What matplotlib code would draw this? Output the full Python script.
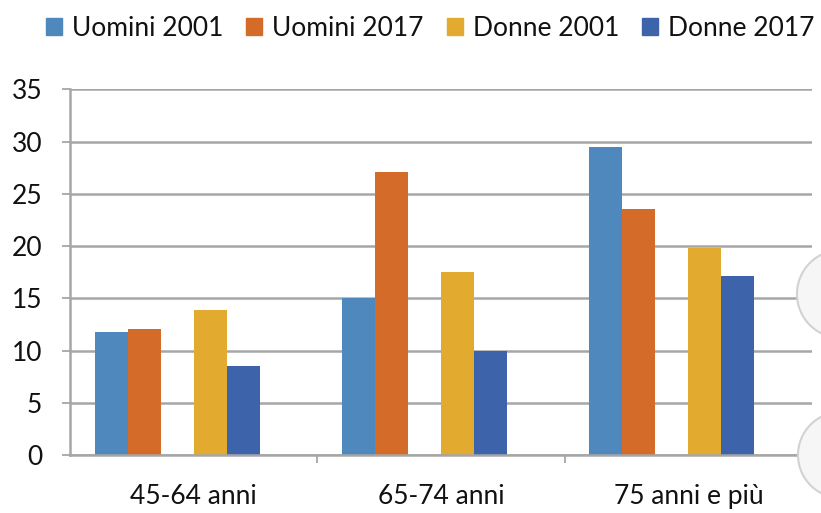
import matplotlib

matplotlib.use("Agg")
import matplotlib.pyplot as plt
import matplotlib.patches as mpatches
import numpy as np

plt.rcParams["font.family"] = ["Lato", "DejaVu Sans"]

# data
categories = ["45-64 anni", "65-74 anni", "75 anni e più"]
series_names = ["Uomini 2001", "Uomini 2017", "Donne 2001", "Donne 2017"]
uomini_2001 = [11.8, 15.0, 29.5]
uomini_2017 = [12.1, 27.1, 23.5]
donne_2001 = [13.9, 17.5, 19.8]
donne_2017 = [8.5, 10.0, 17.1]
yticks = [0, 5, 10, 15, 20, 25, 30, 35]

colors = ["#4f88bd", "#d46b29", "#e2aa2f", "#3d63ab"]
grid_col = "#a6a6a6"
text_col = "#111111"

fig = plt.figure(figsize=(8.21, 5.13), dpi=100)
ax = fig.add_axes([70 / 821, 1 - 455 / 513, (812 - 70) / 821, (455 - 89.3) / 513])

x = np.arange(len(categories))
w = 0.1336
# excel layout: 6 slots per group, third and sixth left empty
offsets = [-2.5, -1.5, 0.5, 1.5]
all_series = [uomini_2001, uomini_2017, donne_2001, donne_2017]
for vals, off, col, name in zip(all_series, offsets, colors, series_names):
    ax.bar(x + off * w, vals, width=w, color=col, label=name, zorder=3)

ax.set_xlim(-0.5, 2.5)
ax.set_ylim(0, 35)
ax.set_yticks(yticks)
ax.grid(axis="y", color=grid_col, lw=1.8, zorder=0)

for s in ["top", "right"]:
    ax.spines[s].set_visible(False)
for s in ["left", "bottom"]:
    ax.spines[s].set_color(grid_col)
    ax.spines[s].set_linewidth(1.8)
    ax.spines[s].set_zorder(4)

# category boundaries get the tick marks, labels sit on the minor ticks
ax.set_xticks([0.5, 1.5])
ax.set_xticklabels([])
ax.set_xticks(x, minor=True)
ax.set_xticklabels(categories, minor=True, fontsize=19, color=text_col)
ax.tick_params(axis="x", which="major", length=6, width=1.3, color=grid_col, direction="out")
ax.tick_params(axis="x", which="minor", length=0, pad=21)
ax.tick_params(axis="y", length=6, width=1.3, color=grid_col, pad=14,
               labelsize=19, labelcolor=text_col)

handles = [mpatches.Patch(color=c) for c in colors]
leg = fig.legend(handles, series_names, loc="upper left",
                 bbox_to_anchor=(46 / 821, 1 - 16 / 513),
                 ncol=4, frameon=False, fontsize=19, handlelength=0.6, handleheight=0.6,
                 handletextpad=0.38, columnspacing=0.88, borderaxespad=0, borderpad=0)
for t in leg.get_texts():
    t.set_color(text_col)

# the two round page buttons cut off at the right edge of the screenshot
for cy, r in [(513 - 294, 44), (513 - 455, 43)]:
    circ = mpatches.Circle((841, cy), r, transform=None, facecolor="#f6f6f6",
                           edgecolor="#d2d2d2", lw=1.5, zorder=5)
    fig.patches.append(circ)

fig.savefig("out.png", dpi=100)
